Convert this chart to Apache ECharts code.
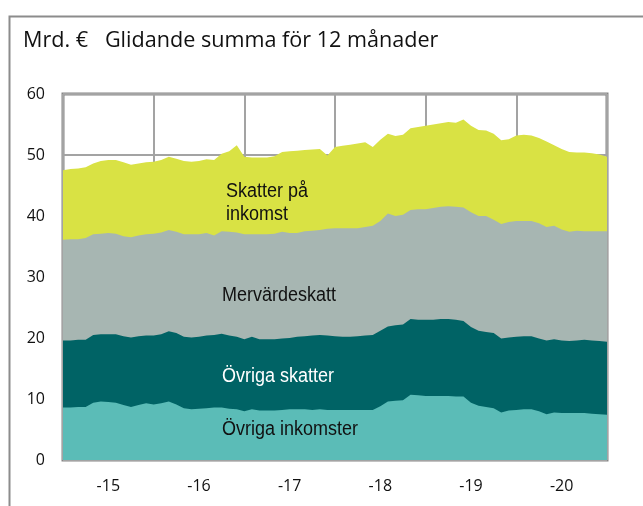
<!DOCTYPE html>
<html lang="sv">
<head>
<meta charset="utf-8">
<title>Glidande summa för 12 månader</title>
<script src="https://cdn.jsdelivr.net/npm/echarts@6/dist/echarts.min.js"></script>
<style>
  html, body { margin: 0; padding: 0; background: #fff; }
  #main { width: 643px; height: 506px; }
</style>
</head>
<body>
<div id="main"></div>
<script>
// Övre gränser (kumulativt, mrd €), månadsvis 2015 - 2020
var totalTop = [47.5,47.7,47.8,48.0,48.6,49.0,49.2,49.2,48.8,48.4,48.6,48.8,
  48.9,49.2,49.7,49.4,49.0,48.9,49.0,49.3,49.2,50.2,50.6,51.6,
  49.7,49.6,49.6,49.6,49.8,50.5,50.6,50.7,50.8,50.9,51.0,49.9,
  51.3,51.5,51.7,51.9,52.1,51.3,52.5,53.5,53.1,53.3,54.4,54.6,
  54.8,55.0,55.2,55.4,55.3,55.8,54.8,54.1,54.0,53.5,52.4,52.6,
  53.2,53.3,53.2,52.8,52.2,51.6,51.0,50.5,50.4,50.4,50.3,50.1,49.7];
var mervardTop = [36.1,36.2,36.2,36.4,37.0,37.1,37.2,37.1,36.7,36.5,36.8,37.0,
  37.1,37.3,37.7,37.4,37.0,37.0,37.0,37.2,36.8,37.5,37.4,37.3,
  37.0,37.0,37.0,37.0,37.1,37.4,37.2,37.2,37.5,37.6,37.7,37.9,
  38.0,38.0,38.0,38.0,38.2,38.4,39.2,40.4,40.0,40.2,41.0,41.1,
  41.1,41.3,41.5,41.6,41.5,41.4,40.6,40.0,40.0,39.4,38.7,39.0,
  39.2,39.2,39.2,38.8,38.2,38.4,37.8,37.4,37.6,37.5,37.5,37.5,37.5];
var skatterTop = [19.6,19.6,19.7,19.7,20.5,20.6,20.6,20.6,20.3,20.1,20.3,20.4,
  20.4,20.6,21.1,20.8,20.2,20.1,20.2,20.4,20.5,20.7,20.4,20.2,
  19.8,20.2,19.8,19.8,19.8,19.9,20.0,20.2,20.3,20.4,20.5,20.4,
  20.3,20.2,20.2,20.3,20.4,20.5,21.2,21.9,22.1,22.2,23.1,23.0,
  23.0,23.0,23.1,23.1,23.0,22.8,21.8,21.2,21.0,20.8,19.9,20.1,
  20.2,20.3,20.3,19.9,19.6,19.8,19.6,19.5,19.6,19.7,19.6,19.5,19.4];
var inkomsterTop = [8.6,8.6,8.7,8.7,9.4,9.6,9.5,9.4,9.0,8.7,9.0,9.3,
  9.1,9.3,9.6,9.1,8.5,8.3,8.4,8.5,8.6,8.6,8.4,8.3,
  8.0,8.3,8.1,8.1,8.1,8.2,8.3,8.3,8.3,8.2,8.3,8.2,
  8.2,8.2,8.2,8.2,8.2,8.2,8.8,9.6,9.7,9.8,10.7,10.6,
  10.5,10.5,10.5,10.5,10.4,10.4,9.4,8.9,8.7,8.5,7.8,8.1,
  8.2,8.3,8.3,8.0,7.5,7.8,7.7,7.7,7.7,7.7,7.6,7.5,7.4];
var yearLabels = ['-15', '-16', '-17', '-18', '-19', '-20'];

var colors = {
  inkomst: '#d9e244',
  mervard: '#a7b6b2',
  skatter: '#006365',
  ovriga: '#5bbcb7'
};

function pairs(arr) {
  return arr.map(function (v, i) { return [i, v]; });
}

function area(name, arr, color, z) {
  return {
    name: name,
    type: 'line',
    data: pairs(arr),
    symbol: 'none',
    z: z,
    lineStyle: { width: 0 },
    areaStyle: { color: color, opacity: 1 },
    itemStyle: { color: color }
  };
}

// smal etikettstil: Liberation Sans, hoptryckt på bredden
function label(text, x, y, fill) {
  return {
    type: 'text', x: x, y: y, z: 100, scaleX: 0.9,
    style: { text: text, fill: fill, font: '20px "Liberation Sans", Arial, sans-serif', lineHeight: 23 }
  };
}

var chart = echarts.init(document.getElementById('main'));
chart.setOption({
  animation: false,
  title: {
    text: 'Mrd. €   Glidande summa för 12 månader',
    left: 18, top: 25,
    textStyle: { fontFamily: 'Open Sans', fontSize: 21.6, fontWeight: 'normal', color: '#111' }
  },
  grid: {
    left: 63, top: 94, width: 544, height: 366,
    show: true, borderColor: '#868686', borderWidth: 3
  },
  xAxis: [{
    type: 'value', min: 0, max: 72, interval: 12,
    axisLine: { show: false }, axisTick: { show: false }, axisLabel: { show: false },
    splitLine: { show: true, lineStyle: { color: '#a3a3a3', width: 2 } }
  }, {
    type: 'category', data: yearLabels, boundaryGap: true, position: 'bottom',
    axisLine: { show: false }, axisTick: { show: false },
    axisLabel: { margin: 18, fontFamily: 'Open Sans', fontSize: 16, color: '#111' }
  }],
  yAxis: {
    type: 'value', min: 0, max: 60, interval: 10,
    axisLine: { show: false }, axisTick: { show: false },
    axisLabel: { margin: 18, fontFamily: 'Open Sans', fontSize: 16, color: '#111' },
    splitLine: { show: true, lineStyle: { color: '#a3a3a3', width: 2 } }
  },
  series: [
    area('Skatter på inkomst', totalTop, colors.inkomst, 2),
    area('Mervärdeskatt', mervardTop, colors.mervard, 3),
    area('Övriga skatter', skatterTop, colors.skatter, 4),
    area('Övriga inkomster', inkomsterTop, colors.ovriga, 5)
  ],
  graphic: [
    { type: 'rect', left: 7, top: 14, z: 0, silent: true,
      shape: { width: 700, height: 600 },
      style: { fill: 'none', stroke: '#8c8c8c', lineWidth: 2 } },
    label('Skatter på\ninkomst', 226, 180, '#111'),
    label('Mervärdeskatt', 222, 284, '#111'),
    label('Övriga skatter', 222, 365, '#fff'),
    label('Övriga inkomster', 222, 418, '#111')
  ]
});
</script>
</body>
</html>
